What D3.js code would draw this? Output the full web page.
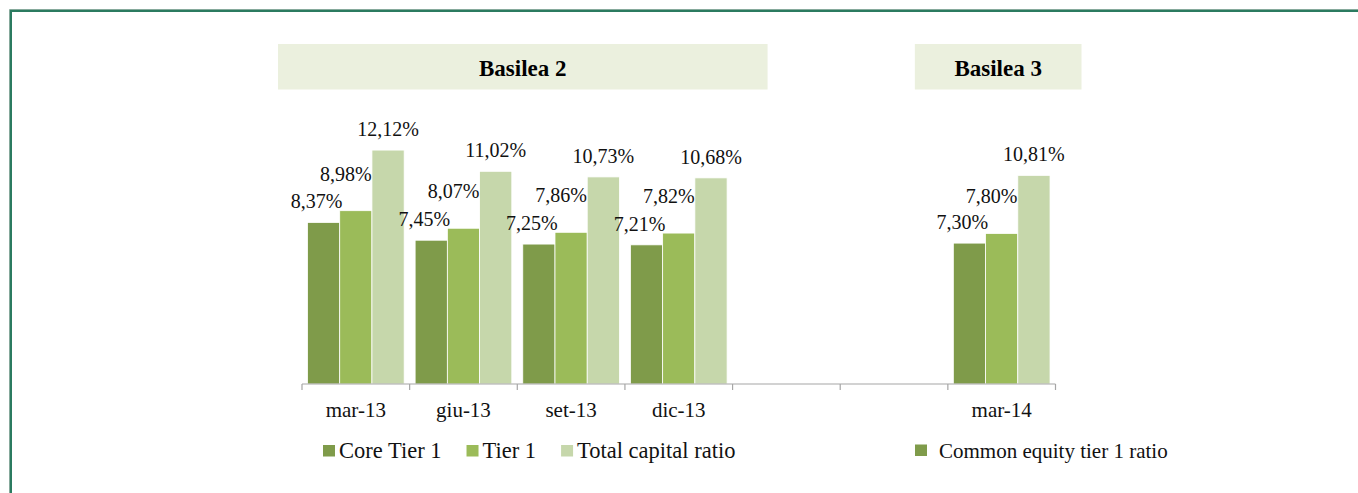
<!DOCTYPE html>
<html>
<head>
<meta charset="utf-8">
<script src="https://cdn.jsdelivr.net/npm/d3@7"></script>
<style>
  body { margin: 0; background: #fff; }
  svg { display: block; font-family: 'Liberation Serif', 'Times New Roman', serif; }
</style>
</head>
<body>
<div id="vis"></div>
<script>
// data
const categories = ['mar-13', 'giu-13', 'set-13', 'dic-13', '', '', 'mar-14']
const coreTier1 = [8.37, 7.45, 7.25, 7.21, null, null, 7.30]
const tier1 = [8.98, 8.07, 7.86, 7.82, null, null, 7.80]
const totalCapital = [12.12, 11.02, 10.73, 10.68, null, null, 10.81]
const seriesNames = ['Core Tier 1', 'Tier 1', 'Total capital ratio']
const basel3Legend = 'Common equity tier 1 ratio'
const headers = [
  { label: 'Basilea 2', from: 0, to: 3 },
  { label: 'Basilea 3', from: 6, to: 6 }
]

const width = 1358
const height = 493
const colors = ['#7f9b4a', '#9bbb59', '#c6d7ab']
// label nudges per series (Excel labels sit a bit left / higher)
const labelNudge = [{ dx: -7, dy: -14 }, { dx: -10, dy: -30 }, { dx: 0, dy: -14 }]
const fmt = (v) => v.toFixed(2).replace('.', ',') + '%'

const series = [coreTier1, tier1, totalCapital]

const svg = d3.select('#vis').append('svg')
  .attr('width', width).attr('height', height)

// frame (top + left only)
svg.append('path').attr('d', `M9.5,${height}V9.5H${width}`)
  .attr('fill', 'none').attr('stroke', '#86aa9c').attr('stroke-width', 1)
svg.append('path').attr('d', `M11,${height}V11H${width}`)
  .attr('fill', 'none').attr('stroke', '#2b7b60').attr('stroke-width', 2)

const axisY = 384
const x = d3.scaleBand()
  .domain(d3.range(categories.length))
  .range([302, 1055.5])
  .padding(0)

const xs = d3.scaleBand()
  .domain(d3.range(series.length))
  .range([0, x.bandwidth()])
  .paddingInner(0)
  .paddingOuter(0.17)

const y = d3.scaleLinear()
  .domain([0, 14])
  .range([axisY, axisY - 14 * 19.3])

// header boxes
const hdrX0 = (d) => d.from === 0 ? x(d.from) - 24 : x(d.from) - 33
const hdrX1 = (d) => d.from === 0 ? x(d.to) + x.bandwidth() + 35 : x(d.to) + x.bandwidth() + 26
const hdr = svg.append('g')
hdr.selectAll('rect').data(headers).join('rect')
  .attr('x', hdrX0)
  .attr('width', (d) => hdrX1(d) - hdrX0(d))
  .attr('y', 44).attr('height', 45.5)
  .attr('fill', '#ebf0de')
hdr.selectAll('text').data(headers).join('text')
  .attr('x', (d) => (hdrX0(d) + hdrX1(d)) / 2)
  .attr('y', 75.5)
  .attr('text-anchor', 'middle')
  .attr('font-weight', 'bold')
  .attr('font-size', 23)
  .attr('fill', '#000')
  .text((d) => d.label)

// bars first, labels on top
const points = series.map((vals) => vals.map((v, i) => ({ v, i })).filter((d) => d.v != null))
const barLayer = svg.append('g')
const labelLayer = svg.append('g')

points.forEach((pts, s) => {
  barLayer.append('g').selectAll('rect').data(pts).join('rect')
    .attr('x', (d) => x(d.i) + xs(s))
    .attr('width', xs.bandwidth())
    .attr('y', (d) => y(d.v))
    .attr('height', (d) => y(0) - y(d.v))
    .attr('fill', colors[s])
    .attr('stroke', '#fff')
    .attr('stroke-width', 0.8)

  labelLayer.append('g').selectAll('text').data(pts).join('text')
    .attr('x', (d) => x(d.i) + xs(s) + xs.bandwidth() / 2 + labelNudge[s].dx)
    .attr('y', (d) => y(d.v) + labelNudge[s].dy)
    .attr('text-anchor', 'middle')
    .attr('font-size', 20)
    .attr('fill', '#111')
    .text((d) => fmt(d.v))
})

// x axis: line, boundary ticks, labels
const axis = svg.append('g').attr('transform', `translate(0,${axisY})`)
axis.append('line')
  .attr('x1', x.range()[0]).attr('x2', x.range()[1])
  .attr('stroke', '#a6a6a6').attr('stroke-width', 1.2)
axis.selectAll('line.tick')
  .data(d3.range(categories.length + 1))
  .join('line')
  .attr('class', 'tick')
  .attr('x1', (i) => x.range()[0] + i * x.step())
  .attr('x2', (i) => x.range()[0] + i * x.step())
  .attr('y1', 0).attr('y2', 6)
  .attr('stroke', '#a6a6a6').attr('stroke-width', 1.2)
axis.selectAll('text')
  .data(categories.map((c, i) => ({ c, i })))
  .join('text')
  .attr('x', (d) => x(d.i) + x.bandwidth() / 2)
  .attr('y', 33)
  .attr('text-anchor', 'middle')
  .attr('font-size', 21)
  .attr('fill', '#111')
  .text((d) => d.c)

// legend
const legend = svg.append('g').attr('transform', 'translate(323,0)')
let lx = 0
seriesNames.forEach((name, i) => {
  legend.append('rect')
    .attr('x', lx).attr('y', 445)
    .attr('width', 12).attr('height', 11.5)
    .attr('fill', colors[i])
  const t = legend.append('text')
    .attr('x', lx + 16).attr('y', 458)
    .attr('font-size', 22.5)
    .attr('fill', '#111')
    .text(name)
  lx += 16 + t.node().getComputedTextLength() + 25
})

const legend3 = svg.append('g').attr('transform', 'translate(915,0)')
legend3.append('rect')
  .attr('x', 0).attr('y', 444.5)
  .attr('width', 12).attr('height', 11.5)
  .attr('fill', colors[0])
legend3.append('text')
  .attr('x', 24).attr('y', 458)
  .attr('font-size', 21)
  .attr('fill', '#111')
  .text(basel3Legend)
</script>
</body>
</html>
